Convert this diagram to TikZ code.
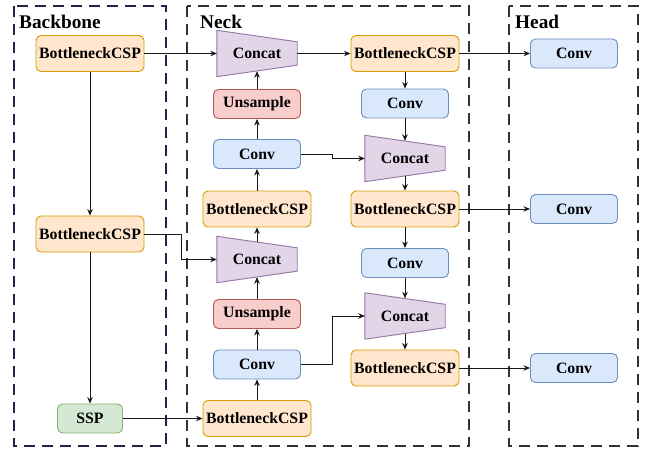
\documentclass[tikz,border=0pt]{standalone}
\usepackage{fontspec}
\setmainfont{Liberation Serif}
\usetikzlibrary{arrows.meta,calc,backgrounds}

\definecolor{cspfill}{HTML}{FFE6CC}
\definecolor{cspline}{HTML}{D79B00}
\definecolor{convfill}{HTML}{DAE8FC}
\definecolor{convline}{HTML}{6C8EBF}
\definecolor{upfill}{HTML}{F8CECC}
\definecolor{upline}{HTML}{B85450}
\definecolor{sspfill}{HTML}{D5E8D4}
\definecolor{sspline}{HTML}{82B366}
\definecolor{catfill}{HTML}{E1D5E7}
\definecolor{catline}{HTML}{9673A6}
\definecolor{bbframe}{HTML}{22224E}
\definecolor{frame}{HTML}{333333}

% trapezoid body behind a Concat node
\newcommand\concatbody[1]{%
  \begin{scope}[on background layer]
    \filldraw[catbody] ($(#1.north west)+(0,-5.5)$) -- ($(#1.north east)+(0,6)$)
      -- ($(#1.south east)+(0,-6)$) -- ($(#1.south west)+(0,5.5)$) -- cycle;
  \end{scope}}

\begin{document}
\begin{tikzpicture}[x=1pt,y=-1pt,
  blk/.style={rounded corners=5pt, line width=0.9pt, inner sep=0pt,
    font=\fontsize{15.8}{18}\selectfont\bfseries},
  csp/.style={blk, draw=cspline, fill=cspfill, minimum width=108pt, minimum height=36pt},
  conv/.style={blk, draw=convline, fill=convfill, minimum width=87pt, minimum height=29pt},
  ups/.style={blk, draw=upline, fill=upfill, minimum width=87pt, minimum height=29pt},
  ssp/.style={blk, draw=sspline, fill=sspfill, minimum width=65pt, minimum height=29pt},
  cat/.style={inner sep=0pt, minimum width=80pt, minimum height=35pt,
    font=\fontsize{15.8}{18}\selectfont\bfseries},
  catbody/.style={draw=catline, fill=catfill, line width=0.9pt},
  flow/.style={draw=black!90, line width=0.9pt, -{Stealth[length=6.5pt,width=5.5pt]}},
  dashbox/.style={line width=1.4pt, dash pattern=on 11pt off 7pt},
  title/.style={anchor=base west, inner sep=0pt, font=\fontsize{19.3}{22}\selectfont\bfseries}]

\useasboundingbox (0,0) rectangle (646,449);

% group frames
\draw[dashbox, draw=bbframe] (14,6) rectangle (166,446);
\draw[dashbox, draw=frame] (187,6) rectangle (469,446);
\draw[dashbox, draw=frame] (509,6) rectangle (638,446);

\node[title] (tb) at (19,29) {Backbone};
\node[title] (tn) at (200,29) {Neck};
\node[title] (th) at (515,29) {Head};

% backbone
\node[csp] (bb1) at (90,53.5) {BottleneckCSP};
\node[csp] (bb2) at (90,234) {BottleneckCSP};
\node[ssp] (ssp) at (90,418.5) {SSP};

% neck, upward path
\node[cat] (c1) at (257,53.5) {Concat};
\node[ups] (up1) at (257,104) {Unsample};
\node[conv] (cv1) at (257,154) {Conv};
\node[csp] (nb2) at (257,209) {BottleneckCSP};
\node[cat] (c2) at (257,259.5) {Concat};
\node[ups] (up2) at (257,314) {Unsample};
\node[conv] (cv2) at (257,364.5) {Conv};
\node[csp] (nb1) at (257,418.5) {BottleneckCSP};

% neck, downward path
\node[csp] (nt1) at (405,53.5) {BottleneckCSP};
\node[conv] (cva) at (405,103.5) {Conv};
\node[cat] (c3) at (405,158.5) {Concat};
\node[csp] (nt2) at (405,209) {BottleneckCSP};
\node[conv] (cvb) at (405,263) {Conv};
\node[cat] (c4) at (405,316) {Concat};
\node[csp] (nt3) at (405,368) {BottleneckCSP};

\concatbody{c1}
\concatbody{c2}
\concatbody{c3}
\concatbody{c4}

% head
\node[conv] (h1) at (574,53.5) {Conv};
\node[conv] (h2) at (574,209) {Conv};
\node[conv] (h3) at (574,368) {Conv};

% connections
\draw[flow] (bb1) -- (c1);
\draw[flow] (bb1) -- (bb2);
\draw[flow] (bb2) -- (ssp);
\draw[flow] (bb2.east) -- ++(37,0) |- (c2.west);
\draw[flow] (ssp) -- (nb1);

\draw[flow] (nb1) -- (cv2);
\draw[flow] (cv2) -- (up2);
\draw[flow] (up2) -- (c2);
\draw[flow] (c2) -- (nb2);
\draw[flow] (nb2) -- (cv1);
\draw[flow] (cv1) -- (up1);
\draw[flow] (up1) -- (c1);

\draw[flow] (c1) -- (nt1);
\draw[flow] (nt1) -- (cva);
\draw[flow] (cva) -- (c3);
\draw[flow] (c3) -- (nt2);
\draw[flow] (nt2) -- (cvb);
\draw[flow] (cvb) -- (c4);
\draw[flow] (c4) -- (nt3);

\draw[flow] (cv1.east) -- ++(31,0) |- (c3.west);
\draw[flow] (cv2.east) -- ++(31,0) |- (c4.west);

\draw[flow] (nt1) -- (h1);
\draw[flow] (nt2) -- (h2);
\draw[flow] (nt3) -- (h3);
\end{tikzpicture}
\end{document}
